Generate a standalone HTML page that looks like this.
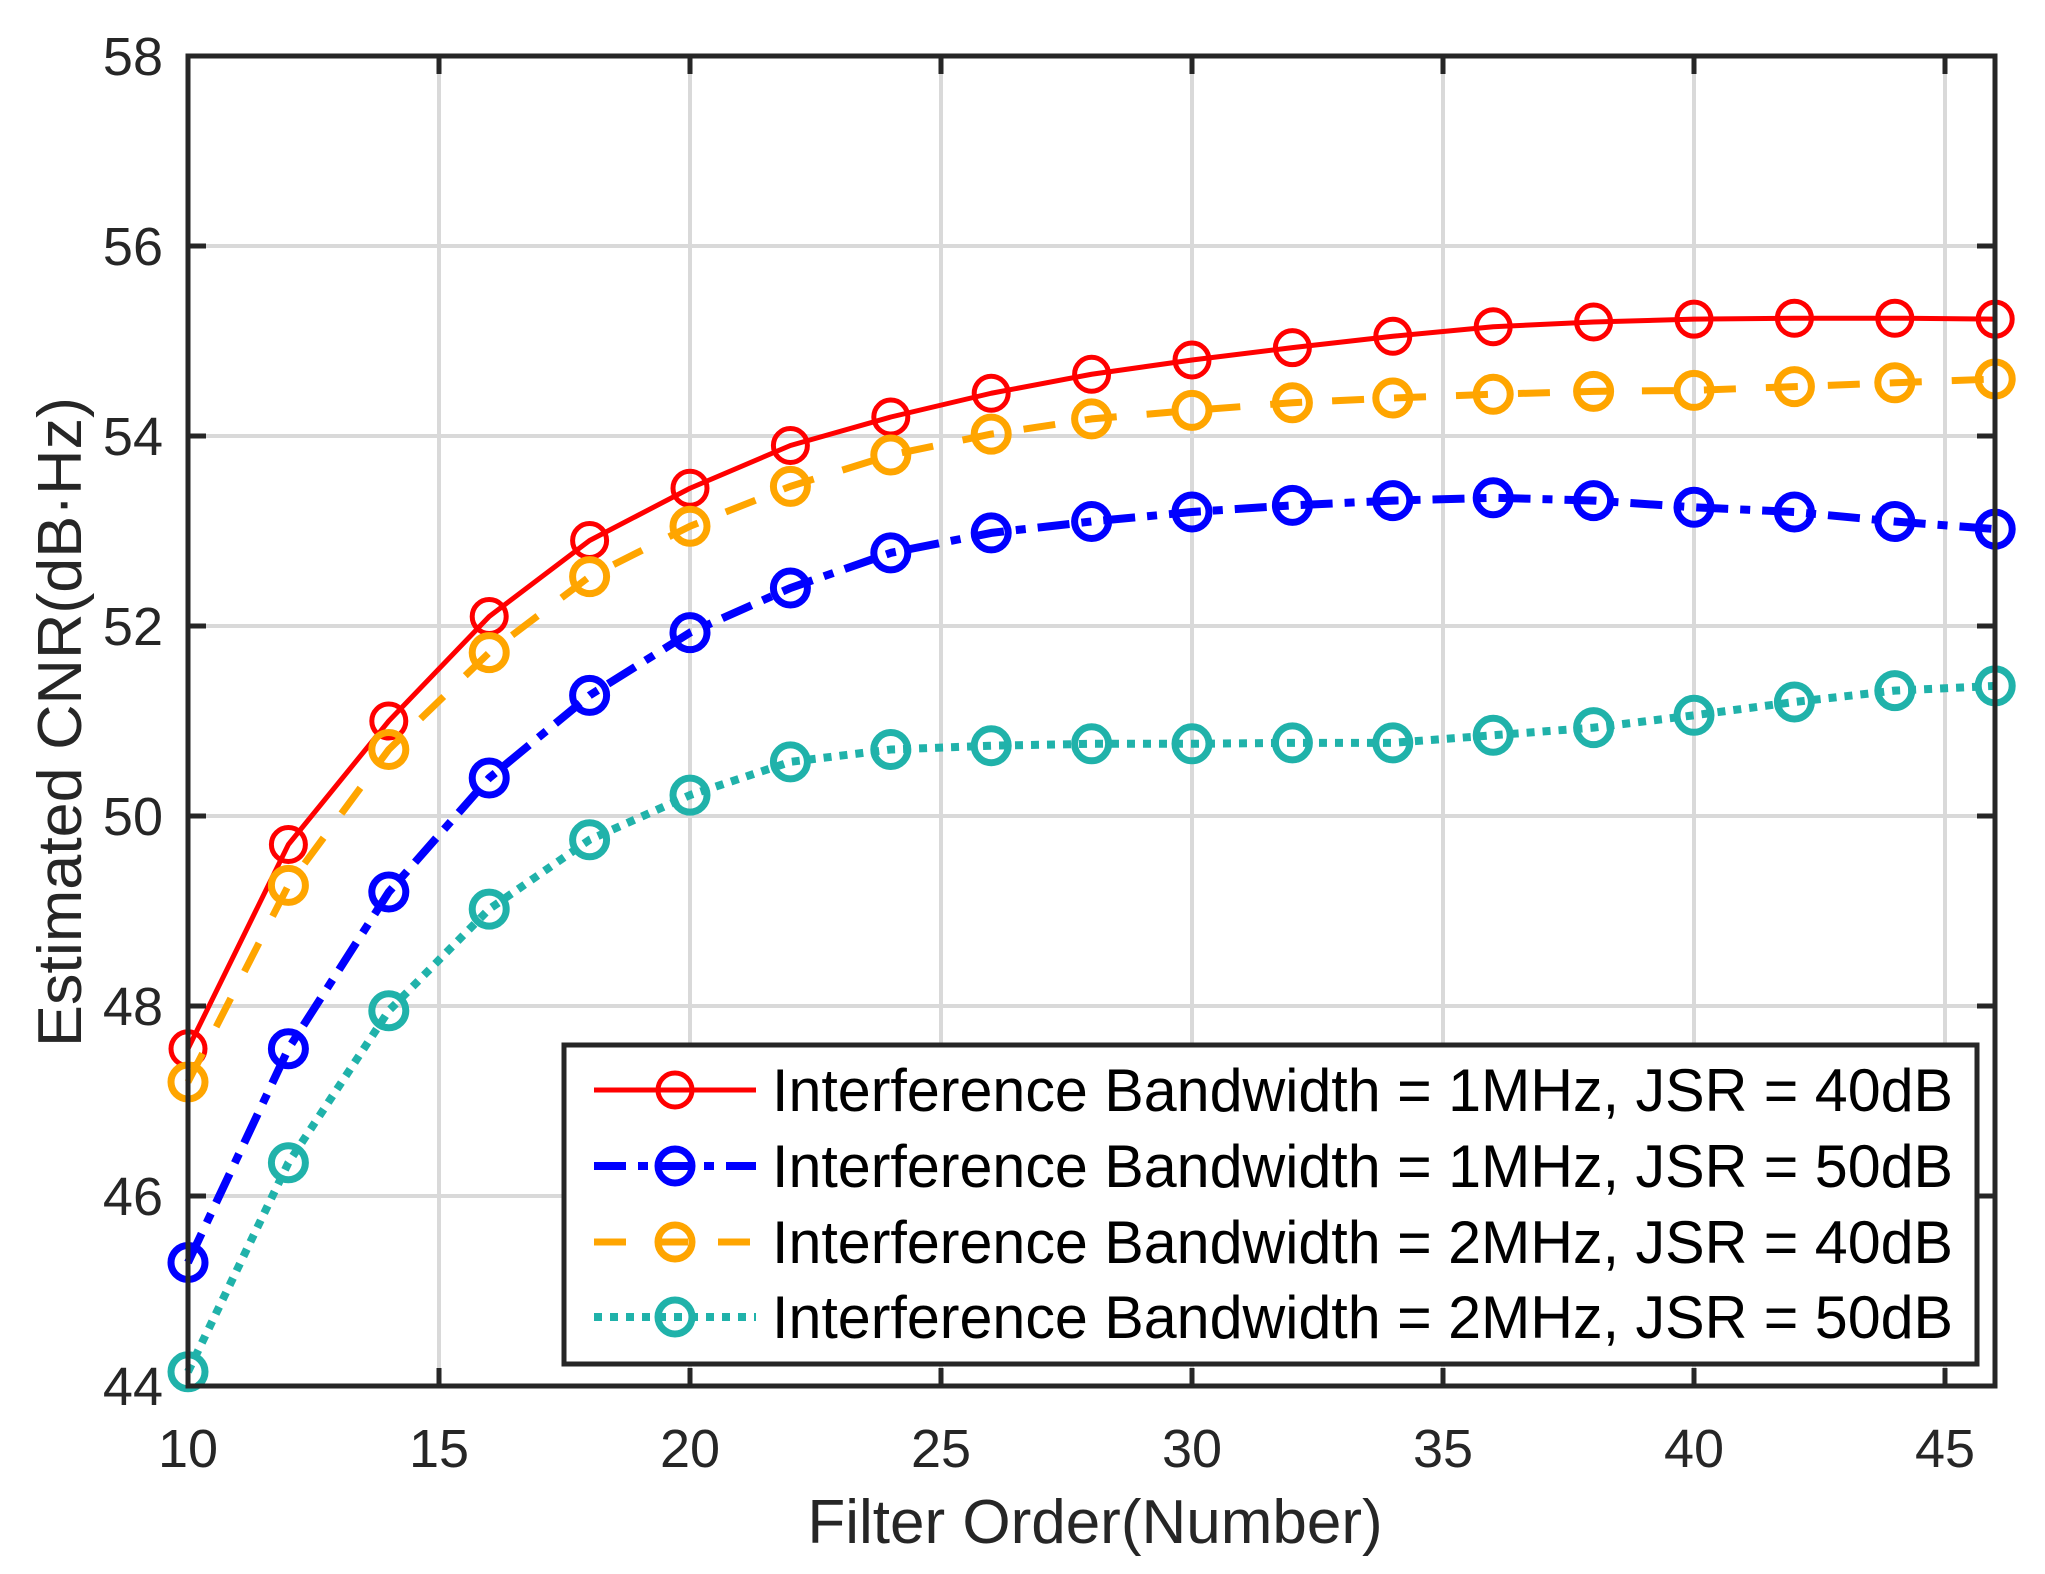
<!DOCTYPE html>
<html><head><meta charset="utf-8"><style>
html,body{margin:0;padding:0;background:#fff;}
svg{display:block;font-family:"Liberation Sans",Arial,sans-serif;}
</style></head><body>
<svg id="s" width="2045" height="1574" viewBox="0 0 2045 1574" xmlns="http://www.w3.org/2000/svg">
<rect width="2045" height="1574" fill="#fff"/>
<g id="grid" stroke="#d9d9d9" stroke-width="4"></g>
<g id="series"></g>
<g id="axes"></g>
<g fill="#262626" font-size="54" text-anchor="end">
<text x="163" y="75">58</text>
<text x="163" y="265">56</text>
<text x="163" y="455">54</text>
<text x="163" y="645">52</text>
<text x="163" y="835">50</text>
<text x="163" y="1025">48</text>
<text x="163" y="1215">46</text>
<text x="163" y="1405">44</text>
</g>
<g fill="#262626" font-size="54" text-anchor="middle">
<text x="188" y="1467">10</text>
<text x="439" y="1467">15</text>
<text x="690" y="1467">20</text>
<text x="941" y="1467">25</text>
<text x="1192" y="1467">30</text>
<text x="1443" y="1467">35</text>
<text x="1694" y="1467">40</text>
<text x="1945" y="1467">45</text>
</g>
<text x="1095" y="1543" font-size="62" fill="#262626" text-anchor="middle">Filter Order(Number)</text>
<text transform="translate(81,722) rotate(-90)" x="0" y="0" font-size="62" fill="#262626" text-anchor="middle" textLength="650" lengthAdjust="spacingAndGlyphs">Estimated CNR(dB·Hz)</text>
<rect x="564" y="1045" width="1413" height="319" fill="#fff" stroke="#262626" stroke-width="5"/>
<g id="leg"></g>
<g font-size="60" fill="#000">
<text x="772" y="1111" textLength="1181" lengthAdjust="spacingAndGlyphs">Interference Bandwidth = 1MHz, JSR = 40dB</text>
<text x="772" y="1187" textLength="1181" lengthAdjust="spacingAndGlyphs">Interference Bandwidth = 1MHz, JSR = 50dB</text>
<text x="772" y="1263" textLength="1181" lengthAdjust="spacingAndGlyphs">Interference Bandwidth = 2MHz, JSR = 40dB</text>
<text x="772" y="1338" textLength="1181" lengthAdjust="spacingAndGlyphs">Interference Bandwidth = 2MHz, JSR = 50dB</text>
</g>
</svg>
<script>
var NS="http://www.w3.org/2000/svg";
function el(p,t,a){var e=document.createElementNS(NS,t);for(var k in a)e.setAttribute(k,a[k]);p.appendChild(e);return e;}
var L=188,R=1995,T=56,B=1386,UX=50.2,UY=95;
function X(x){return L+(x-10)*UX;} function Y(y){return T+(58-y)*UY;}
var g=document.getElementById('grid');
for(var x=15;x<=45;x+=5) el(g,'line',{x1:X(x),x2:X(x),y1:T,y2:B});
for(var y=46;y<=56;y+=2) el(g,'line',{x1:L,x2:R,y1:Y(y),y2:Y(y)});
var a=document.getElementById('axes');
el(a,'rect',{x:L,y:T,width:R-L,height:B-T,fill:'none',stroke:'#262626','stroke-width':5});
for(var x=10;x<=45;x+=5){el(a,'line',{x1:X(x),x2:X(x),y1:B,y2:B-18,stroke:'#262626','stroke-width':5});el(a,'line',{x1:X(x),x2:X(x),y1:T,y2:T+18,stroke:'#262626','stroke-width':5});}
for(var y=44;y<=58;y+=2){el(a,'line',{x1:L,x2:L+18,y1:Y(y),y2:Y(y),stroke:'#262626','stroke-width':5});el(a,'line',{x1:R,x2:R-18,y1:Y(y),y2:Y(y),stroke:'#262626','stroke-width':5});}
var xs=[];for(var i=10;i<=46;i+=2)xs.push(i);
var S=[
{c:'#ff0000',d:'',w:5,mw:5,v:[47.55,49.7,51.0,52.1,52.9,53.45,53.9,54.2,54.45,54.65,54.8,54.93,55.05,55.15,55.2,55.23,55.24,55.24,55.23]},
{c:'#0000ff',d:'32 12 10 12',w:8,mw:7,v:[45.3,47.55,49.2,50.4,51.27,51.93,52.4,52.77,52.98,53.1,53.2,53.27,53.32,53.35,53.32,53.25,53.2,53.1,53.02]},
{c:'#ffa500',d:'32 30',w:7,mw:7,v:[47.2,49.27,50.7,51.72,52.52,53.05,53.47,53.8,54.02,54.18,54.27,54.35,54.4,54.44,54.47,54.48,54.52,54.56,54.6]},
{c:'#20b2aa',d:'8 8',w:8,mw:7,v:[44.15,46.35,47.95,49.02,49.75,50.22,50.57,50.7,50.74,50.76,50.76,50.77,50.77,50.85,50.93,51.06,51.2,51.32,51.37]}
];
var sg=document.getElementById('series'),lg=document.getElementById('leg');
var ly=[1090,1166,1242,1317];
S.forEach(function(s,k){
 var pts=s.v.map(function(v,i){return X(xs[i])+','+Y(v);}).join(' ');
 var o={points:pts,fill:'none',stroke:s.c,'stroke-width':s.w,'stroke-linejoin':'round'};
 if(s.d)o['stroke-dasharray']=s.d;
 el(sg,'polyline',o);
 s.v.forEach(function(v,i){el(sg,'circle',{cx:X(xs[i]),cy:Y(v),r:17,fill:'none',stroke:s.c,'stroke-width':s.mw});});
 var lo={x1:594,x2:756,y1:ly[k],y2:ly[k],stroke:s.c,'stroke-width':s.w};
 if(s.d)lo['stroke-dasharray']=s.d;
 el(lg,'line',lo);
 el(lg,'circle',{cx:675,cy:ly[k],r:17,fill:'none',stroke:s.c,'stroke-width':s.mw});
});
</script>
</body></html>
